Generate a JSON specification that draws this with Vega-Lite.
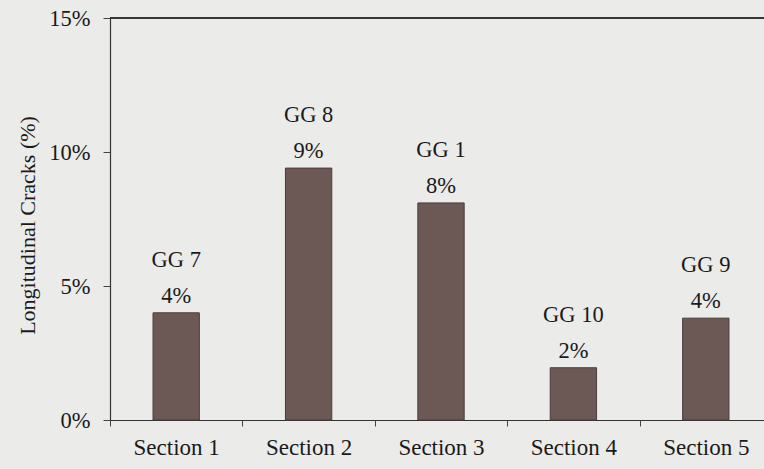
{
  "$schema": "https://vega.github.io/schema/vega-lite/v6.json",
  "width": 654,
  "height": 402,
  "autosize": {"type": "none"},
  "padding": {"left": 110, "top": 18, "right": 0, "bottom": 49},
  "background": "#ebebea",
  "config": {
    "view": {"stroke": null},
    "font": "Liberation Serif",
    "text": {"font": "Liberation Serif", "fontSize": 22.5, "color": "#1a1a1a"}
  },
  "data": {
    "values": [
      {"section": "Section 1", "gg": "GG 7", "value": 0.040},
      {"section": "Section 2", "gg": "GG 8", "value": 0.094},
      {"section": "Section 3", "gg": "GG 1", "value": 0.081},
      {"section": "Section 4", "gg": "GG 10", "value": 0.0195},
      {"section": "Section 5", "gg": "GG 9", "value": 0.038}
    ]
  },
  "encoding": {
    "x": {
      "field": "section",
      "type": "nominal",
      "sort": null,
      "scale": {"range": [0, 662], "paddingInner": 0, "paddingOuter": 0},
      "axis": {
        "title": null,
        "labelAngle": 0,
        "labelFont": "Liberation Serif",
        "labelFontSize": 23,
        "labelColor": "#1a1a1a",
        "labelPadding": 10,
        "tickBand": "extent",
        "tickSize": 6,
        "tickColor": "#444",
        "domainColor": "#333",
        "domainWidth": 1.2
      }
    },
    "y": {
      "field": "value",
      "type": "quantitative",
      "scale": {"domain": [0, 0.15], "nice": false},
      "axis": {
        "values": [0, 0.05, 0.1, 0.15],
        "format": ".0%",
        "grid": false,
        "title": "Longitudinal Cracks (%)",
        "titleFont": "Liberation Serif",
        "titleFontSize": 22,
        "titleFontWeight": "normal",
        "titleColor": "#1a1a1a",
        "titleAngle": -90,
        "titleX": -83,
        "titleY": 207,
        "titleAlign": "center",
        "titleBaseline": "middle",
        "labelFont": "Liberation Serif",
        "labelFontSize": 22.5,
        "labelColor": "#1a1a1a",
        "labelPadding": 13,
        "tickSize": 7,
        "tickColor": "#444",
        "domainColor": "#333",
        "domainWidth": 1.2
      }
    }
  },
  "layer": [
    {
      "mark": {"type": "bar", "width": {"band": 0.35}, "color": "#6c5956", "stroke": "#4a3c3a", "strokeWidth": 1}
    },
    {
      "mark": {"type": "text", "baseline": "alphabetic", "dy": -10},
      "encoding": {"text": {"field": "value", "type": "quantitative", "format": ".0%"}}
    },
    {
      "mark": {"type": "text", "baseline": "alphabetic", "dy": -46},
      "encoding": {"text": {"field": "gg", "type": "nominal"}}
    },
    {
      "mark": {"type": "rule", "color": "#333", "strokeWidth": 1.2},
      "encoding": {"y": {"datum": 0.15}, "x": null}
    }
  ]
}
